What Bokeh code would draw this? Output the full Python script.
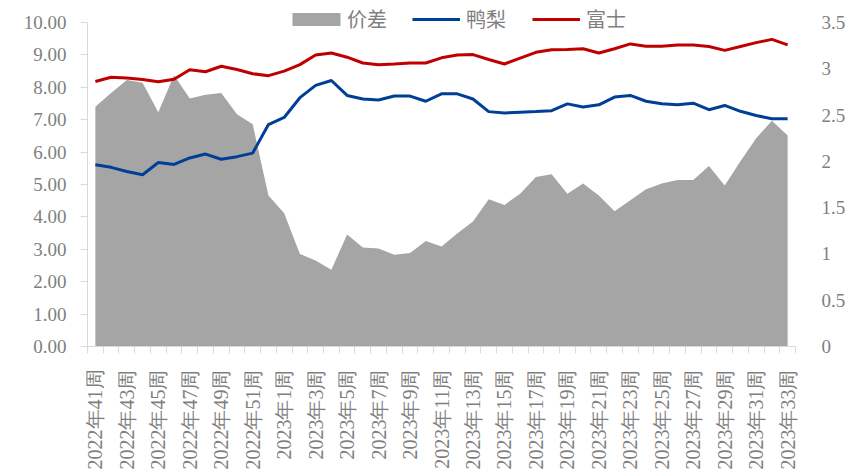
from bokeh.plotting import figure
from bokeh.models import Range1d, LinearAxis, FixedTicker, Legend, LegendItem, CustomJSTickFormatter, PrintfTickFormatter
from bokeh.embed import file_html
from bokeh.resources import INLINE

weeks = ["2022年41周", "2022年42周", "2022年43周", "2022年44周", "2022年45周", "2022年46周",
         "2022年47周", "2022年48周", "2022年49周", "2022年50周", "2022年51周", "2022年52周",
         "2023年1周", "2023年2周", "2023年3周", "2023年4周", "2023年5周", "2023年6周",
         "2023年7周", "2023年8周", "2023年9周", "2023年10周", "2023年11周", "2023年12周",
         "2023年13周", "2023年14周", "2023年15周", "2023年16周", "2023年17周", "2023年18周",
         "2023年19周", "2023年20周", "2023年21周", "2023年22周", "2023年23周", "2023年24周",
         "2023年25周", "2023年26周", "2023年27周", "2023年28周", "2023年29周", "2023年30周",
         "2023年31周", "2023年32周", "2023年33周"]

fuji = [8.18, 8.31, 8.29, 8.24, 8.17, 8.25, 8.54, 8.48, 8.65, 8.55,
        8.42, 8.36, 8.50, 8.70, 9.00, 9.06, 8.93, 8.75, 8.70, 8.72,
        8.75, 8.75, 8.91, 9.00, 9.01, 8.86, 8.72, 8.90, 9.08, 9.16,
        9.17, 9.19, 9.06, 9.19, 9.34, 9.27, 9.27, 9.31, 9.31, 9.26,
        9.14, 9.26, 9.38, 9.48, 9.31]

yali = [5.61, 5.53, 5.40, 5.30, 5.68, 5.62, 5.82, 5.94, 5.78, 5.86,
        5.97, 6.85, 7.07, 7.68, 8.06, 8.21, 7.75, 7.64, 7.61, 7.73,
        7.73, 7.57, 7.80, 7.80, 7.64, 7.25, 7.21, 7.23, 7.25, 7.28,
        7.49, 7.39, 7.46, 7.70, 7.75, 7.57, 7.49, 7.46, 7.51, 7.31,
        7.44, 7.26, 7.13, 7.03, 7.03]

spread = [2.59, 2.74, 2.88, 2.85, 2.53, 2.93, 2.68, 2.72, 2.74, 2.51,
          2.40, 1.63, 1.44, 1.00, 0.93, 0.83, 1.21, 1.07, 1.06, 0.99,
          1.01, 1.14, 1.08, 1.22, 1.35, 1.59, 1.53, 1.65, 1.83, 1.86,
          1.65, 1.76, 1.63, 1.46, 1.58, 1.70, 1.76, 1.80, 1.80, 1.95,
          1.74, 2.00, 2.25, 2.44, 2.28]

left_ticks = [0, 1, 2, 3, 4, 5, 6, 7, 8, 9, 10]
right_ticks = [0, 0.5, 1, 1.5, 2, 2.5, 3, 3.5]

x = list(range(len(weeks)))

GRAY_TXT = "#7f7f7f"
AXIS_CLR = "#d9d9d9"
FONT = "Liberation Serif"

# frame reaches the top of the canvas so the legend (above the 10.00 line) is not clipped
LEFT_MAX = 10.68
RIGHT_MAX = LEFT_MAX * 0.35

p = figure(width=848, height=473, output_backend="svg", toolbar_location=None,
           x_range=Range1d(-0.5, len(weeks) - 0.5), y_range=Range1d(0, LEFT_MAX),
           min_border_left=87, min_border_right=50, min_border_top=0, min_border_bottom=127)
p.outline_line_color = None
p.grid.visible = False
p.extra_y_ranges = {"right": Range1d(0, RIGHT_MAX)}

area = p.varea(x=x, y1=[0] * len(x), y2=spread, y_range_name="right", fill_color="#a5a5a5")
l_yali = p.line(x, yali, line_color="#003f96", line_width=3)
l_fuji = p.line(x, fuji, line_color="#c00000", line_width=3)

# bottom axis
xa = p.xaxis[0]
xa.ticker = FixedTicker(ticks=x[::2], minor_ticks=[i - 0.5 for i in range(len(weeks) + 1)])
xa.major_label_overrides = {i: weeks[i] for i in x[::2]}
xa.major_label_orientation = 1.5708
xa.major_label_text_font = FONT
xa.major_label_text_font_size = "20px"
xa.major_label_text_color = GRAY_TXT
xa.major_tick_line_color = None
xa.minor_tick_line_color = AXIS_CLR
xa.minor_tick_out = 7
xa.minor_tick_in = 0
xa.axis_line_color = AXIS_CLR
xa.major_label_standoff = 16

# left axis
ya = p.yaxis[0]
ya.ticker = FixedTicker(ticks=left_ticks)
ya.formatter = PrintfTickFormatter(format="%.2f")
ya.bounds = (0, 10)
ya.major_label_text_font = FONT
ya.major_label_text_font_size = "19px"
ya.major_label_text_color = GRAY_TXT
ya.major_tick_line_color = AXIS_CLR
ya.major_tick_out = 7
ya.major_tick_in = 0
ya.minor_tick_line_color = None
ya.axis_line_color = AXIS_CLR
ya.major_label_standoff = 14

# right axis
ra = LinearAxis(y_range_name="right", ticker=FixedTicker(ticks=right_ticks),
                formatter=CustomJSTickFormatter(code="return String(Math.round(tick*10)/10);"))
ra.bounds = (0, 3.5)
ra.major_label_text_font = FONT
ra.major_label_text_font_size = "19px"
ra.major_label_text_color = GRAY_TXT
ra.major_tick_line_color = None
ra.minor_tick_line_color = None
ra.axis_line_color = None
ra.major_label_standoff = 20
p.add_layout(ra, "right")

common = dict(orientation="horizontal", padding=0, margin=0, border_line_color=None,
              background_fill_alpha=0, label_text_font="Noto Sans CJK SC",
              label_text_font_size="20px", label_text_color=GRAY_TXT, label_height=20)

legend_area = Legend(items=[LegendItem(label="价差", renderers=[area])],
                     location=(199, 313), glyph_width=60, glyph_height=16,
                     label_standoff=1, **common)
legend_lines = Legend(items=[LegendItem(label="鸭梨", renderers=[l_yali]),
                             LegendItem(label="富士", renderers=[l_fuji])],
                      location=(325, 313), glyph_width=48, glyph_height=16,
                      label_standoff=6, spacing=26, **common)
p.add_layout(legend_area, "center")
p.add_layout(legend_lines, "center")

open("out.html", "w").write(file_html(p, INLINE))
